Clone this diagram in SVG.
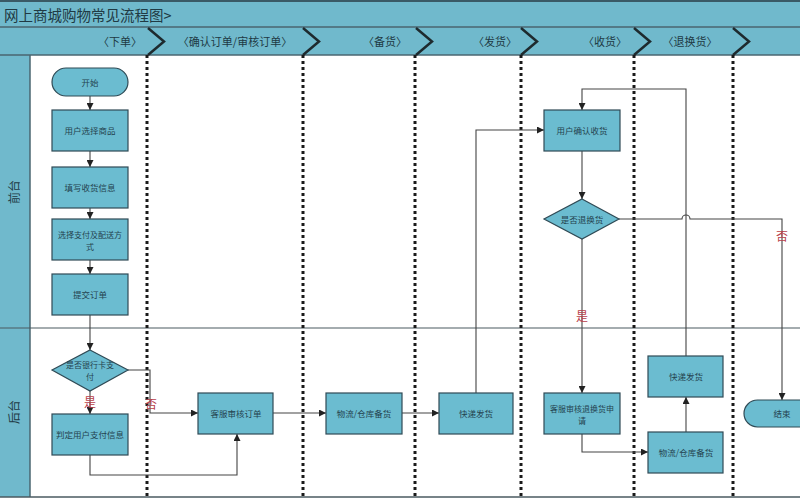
<svg xmlns="http://www.w3.org/2000/svg" width="800" height="500" viewBox="0 0 800 500">
<defs>
<marker id="arr" viewBox="0 0 10 10" refX="10" refY="5" markerWidth="7" markerHeight="7" orient="auto" markerUnits="userSpaceOnUse">
<path d="M0,0 L10,5 L0,10 z" fill="#222"/>
</marker>
<style>
.bar{fill:#70b9cc;}
.node{fill:#6bbcd0;stroke:#2f4a55;stroke-width:1.2;}
.nt{font-family:"Noto Sans CJK SC","Noto Sans",sans-serif;font-size:8.5px;fill:#24434f;text-anchor:middle;dominant-baseline:central;}
.nt2{font-family:"Noto Sans CJK SC","Noto Sans",sans-serif;font-size:8px;fill:#24434f;text-anchor:middle;dominant-baseline:central;}
.hd{font-family:"Noto Sans CJK SC","Noto Sans",sans-serif;font-size:11px;fill:#203a44;text-anchor:middle;dominant-baseline:central;}
.lane{font-family:"Noto Sans CJK SC","Noto Sans",sans-serif;font-size:12px;fill:#203a44;text-anchor:middle;dominant-baseline:central;}
.lbl{font-family:"Noto Sans CJK SC","Noto Sans",sans-serif;font-size:12px;fill:#b8404a;text-anchor:middle;dominant-baseline:central;}
.sep{stroke:#1a1a1a;stroke-width:3;stroke-dasharray:3 3;fill:none;}
.chev{stroke:#1e2a2e;stroke-width:2.5;fill:none;}
.ca{stroke:#444;stroke-width:1.1;fill:none;marker-end:url(#arr);}
</style>
</defs>
<rect width="800" height="500" fill="#ffffff"/>
<g id="frame">
<rect class="bar" x="0" y="0" width="800" height="55"/>
<rect class="bar" x="0" y="55" width="30" height="442"/>
<line x1="0" y1="1" x2="800" y2="1" stroke="#3a5a66" stroke-width="2"/>
<line x1="0" y1="27" x2="800" y2="27" stroke="#4a6670" stroke-width="1.5"/>
<line x1="0" y1="55" x2="800" y2="55" stroke="#4a6670" stroke-width="1.5"/>
<line x1="30" y1="55" x2="30" y2="497" stroke="#4a6670" stroke-width="1.5"/>
<line x1="0" y1="328" x2="800" y2="328" stroke="#4a5a60" stroke-width="1.2"/>
<line x1="0" y1="497" x2="800" y2="497" stroke="#4a5a60" stroke-width="1.5"/>
<text x="4" y="14" font-family="'Noto Sans CJK SC','Noto Sans',sans-serif" font-size="14.5" fill="#203a44" dominant-baseline="central">网上商城购物常见流程图&gt;</text>
<text class="lane" transform="translate(13,192) rotate(-90)">前台</text>
<text class="lane" transform="translate(13,412) rotate(-90)">后台</text>
</g>
<g id="phases">
<text class="hd" x="120" y="41">〈下单〉</text>
<text class="hd" x="235" y="41">〈确认订单/审核订单〉</text>
<text class="hd" x="385" y="41">〈备货〉</text>
<text class="hd" x="495" y="41">〈发货〉</text>
<text class="hd" x="605" y="41">〈收货〉</text>
<text class="hd" x="690" y="41">〈退换货〉</text>
<path class="chev" d="M148,28 L164,41.5 L148,55"/>
<path class="chev" d="M303,28 L319,41.5 L303,55"/>
<path class="chev" d="M416,28 L432,41.5 L416,55"/>
<path class="chev" d="M521,28 L537,41.5 L521,55"/>
<path class="chev" d="M634,28 L650,41.5 L634,55"/>
<path class="chev" d="M733,28 L749,41.5 L733,55"/>
<line class="sep" x1="147" y1="55" x2="147" y2="497"/>
<line class="sep" x1="303" y1="55" x2="303" y2="497"/>
<line class="sep" x1="415" y1="55" x2="415" y2="497"/>
<line class="sep" x1="521" y1="55" x2="521" y2="497"/>
<line class="sep" x1="634" y1="55" x2="634" y2="497"/>
<line class="sep" x1="733" y1="55" x2="733" y2="497"/>
</g>
<g id="connectors">
<line class="ca" x1="90" y1="96" x2="90" y2="110"/>
<line class="ca" x1="90" y1="151" x2="90" y2="167"/>
<line class="ca" x1="90" y1="208" x2="90" y2="219"/>
<line class="ca" x1="90" y1="260" x2="90" y2="274"/>
<line class="ca" x1="90" y1="315" x2="90" y2="350"/>
<line class="ca" x1="90" y1="391" x2="90" y2="414"/>
<path class="ca" d="M128,370 H150 V413 H198"/>
<path class="ca" d="M90,455 V475 H237 V434"/>
<line class="ca" x1="273" y1="413" x2="326" y2="413"/>
<line class="ca" x1="402" y1="413" x2="439" y2="413"/>
<path class="ca" d="M476,393 V130 H544"/>
<line class="ca" x1="582" y1="151" x2="582" y2="199"/>
<line class="ca" x1="582" y1="239" x2="582" y2="393"/>
<path class="ca" d="M619,219 H682 A4,4 0 0 1 690,219 H782 V400"/>
<path class="ca" d="M582,434 V452 H648"/>
<line class="ca" x1="686" y1="432" x2="686" y2="397"/>
<path class="ca" d="M686,356 V89 H582 V110"/>
<text class="lbl" x="90" y="401">是</text>
<text class="lbl" x="151" y="403">否</text>
<text class="lbl" x="582" y="315">是</text>
<text class="lbl" x="782" y="235">否</text>
</g>
<g id="start"><rect class="node" x="52" y="68" width="76" height="28" rx="14"/><text class="nt" x="90" y="82">开始</text></g>
<g id="select"><rect class="node" x="52" y="110" width="76" height="41"/><text class="nt" x="90" y="130">用户选择商品</text></g>
<g id="fill"><rect class="node" x="52" y="167" width="76" height="41"/><text class="nt" x="90" y="187">填写收货信息</text></g>
<g id="pay"><rect class="node" x="52" y="219" width="76" height="41"/><text class="nt2" x="90" y="234">选择支付及配送方</text><text class="nt2" x="90" y="246">式</text></g>
<g id="submit"><rect class="node" x="52" y="274" width="76" height="41"/><text class="nt" x="90" y="294">提交订单</text></g>
<g id="bankcard"><polygon class="node" points="90,350 128,370 90,391 52,370"/><text class="nt2" x="90" y="364">是否银行卡支</text><text class="nt2" x="90" y="376">付</text></g>
<g id="verify"><rect class="node" x="52" y="414" width="76" height="41"/><text class="nt" x="90" y="434">判定用户支付信息</text></g>
<g id="review"><rect class="node" x="198" y="393" width="75" height="41"/><text class="nt" x="236" y="413">客服审核订单</text></g>
<g id="stock"><rect class="node" x="326" y="393" width="76" height="41"/><text class="nt" x="364" y="413">物流/仓库备货</text></g>
<g id="ship"><rect class="node" x="439" y="393" width="74" height="41"/><text class="nt" x="476" y="413">快递发货</text></g>
<g id="confirm"><rect class="node" x="544" y="110" width="76" height="41"/><text class="nt" x="582" y="130">用户确认收货</text></g>
<g id="return"><polygon class="node" points="582,199 619,219 582,239 544,219"/><text class="nt" x="582" y="219">是否退换货</text></g>
<g id="reviewret"><rect class="node" x="544" y="393" width="76" height="41"/><text class="nt2" x="582" y="408">客服审核退换货申</text><text class="nt2" x="582" y="420">请</text></g>
<g id="stock2"><rect class="node" x="648" y="432" width="75" height="41"/><text class="nt" x="686" y="452">物流/仓库备货</text></g>
<g id="ship2"><rect class="node" x="648" y="356" width="75" height="41"/><text class="nt" x="686" y="376">快递发货</text></g>
<g id="end"><rect class="node" x="744" y="400" width="80" height="27" rx="13.5"/><text class="nt" x="782" y="413">结束</text></g>
</svg>
